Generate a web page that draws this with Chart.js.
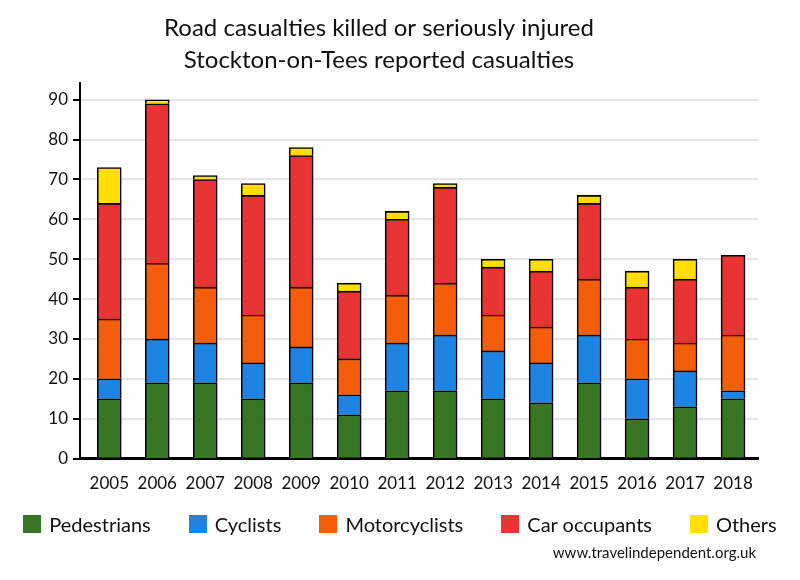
<!DOCTYPE html>
<html>
<head>
<meta charset="utf-8">
<script src="https://cdn.jsdelivr.net/npm/chart.js@4.4.0/dist/chart.umd.min.js"></script>
<style>
  html, body { margin: 0; padding: 0; background: #fff; }
  #wrap { position: relative; width: 800px; height: 580px; }
  #legend {
    position: absolute; left: 0; top: 512px; width: 800px;
    display: flex; justify-content: center; gap: 38px;
    font: 20px Lato, "Open Sans", sans-serif; color: #111;
  }
  #legend .item { display: flex; align-items: center; }
  #legend .box { width: 18px; height: 18px; margin-right: 8px; }
</style>
</head>
<body>
<div id="wrap">
  <canvas id="casualty-chart"></canvas>
  <div id="legend"></div>
</div>
<script>
const years = ["2005", "2006", "2007", "2008", "2009", "2010", "2011", "2012", "2013", "2014", "2015", "2016", "2017", "2018"];

const pedestrians = [15, 19, 19, 15, 19, 11, 17, 17, 15, 14, 19, 10, 13, 15];
const cyclists = [5, 11, 10, 9, 9, 5, 12, 14, 12, 10, 12, 10, 9, 2];
const motorcyclists = [15, 19, 14, 12, 15, 9, 12, 13, 9, 9, 14, 10, 7, 14];
const carOccupants = [29, 40, 27, 30, 33, 17, 19, 24, 12, 14, 19, 13, 16, 20];
const others = [9, 1, 1, 3, 2, 2, 2, 1, 2, 3, 2, 4, 5, 0];

const yTicks = [0, 10, 20, 30, 40, 50, 60, 70, 80, 90];

const FONT = "Lato, 'Open Sans', sans-serif";
const chartCanvas = document.querySelector("#casualty-chart");
const legendBox = document.querySelector("#legend");

const makeSet = (label, data, color) => ({
  label: label,
  data: data,
  backgroundColor: color,
  borderColor: "#000",
  borderWidth: 1.6,
  barThickness: 24,
});

// small text in the bottom right corner
const sourceNote = {
  id: "sourceNote",
  afterDraw(chart) {
    const ctx = chart.ctx;
    ctx.save();
    ctx.font = "15px " + FONT;
    ctx.fillStyle = "#111";
    ctx.textAlign = "right";
    ctx.textBaseline = "middle";
    ctx.fillText("www.travelindependent.org.uk", 756, 553);
    ctx.restore();
  },
};

// legend as html so the spacing can follow the original
const renderLegend = (chart) => {
  legendBox.innerHTML = "";
  chart.data.datasets.forEach((ds) => {
    const item = document.createElement("div");
    item.className = "item";
    const box = document.createElement("span");
    box.className = "box";
    box.style.background = ds.backgroundColor;
    const txt = document.createElement("span");
    txt.textContent = ds.label;
    item.appendChild(box);
    item.appendChild(txt);
    legendBox.appendChild(item);
  });
};

const renderChart = () => {
  const chart = new Chart(chartCanvas, {
    type: "bar",
    data: {
      labels: years,
      datasets: [
        makeSet("Pedestrians", pedestrians, "#377622"),
        makeSet("Cyclists", cyclists, "#1d84e1"),
        makeSet("Motorcyclists", motorcyclists, "#f45e0b"),
        makeSet("Car occupants", carOccupants, "#e93434"),
        makeSet("Others", others, "#ffde00"),
      ],
    },
    options: {
      responsive: true,
      maintainAspectRatio: false,
      animation: false,
      layout: { padding: { left: 0, right: 42, top: 0, bottom: 71 } },
      scales: {
        x: {
          type: "linear",
          stacked: true,
          offset: false,
          min: 2004.39,
          max: 2018.52,
          afterBuildTicks: (scale) => {
            scale.ticks = years.map((y) => ({ value: Number(y) }));
          },
          ticks: {
            autoSkip: false,
            maxRotation: 0,
            padding: 15,
            color: "#111",
            font: { family: FONT, size: 17 },
            callback: (v) => String(v),
          },
          grid: { display: false, drawTicks: false },
          border: { display: true, color: "#000", width: 3 },
        },
        y: {
          stacked: true,
          min: 0,
          max: 94.2,
          afterBuildTicks: (scale) => {
            scale.ticks = yTicks.map((v) => ({ value: v }));
          },
          afterFit: (scale) => {
            scale.width = 80;
          },
          ticks: {
            padding: 5,
            color: "#111",
            font: { family: FONT, size: 17 },
          },
          grid: {
            color: "#e6e6e6",
            lineWidth: 2,
            tickColor: "#000",
            tickLength: 7,
            tickWidth: 2,
          },
          border: { display: true, color: "#000", width: 2 },
        },
      },
      plugins: {
        title: {
          display: true,
          text: ["Road casualties killed or seriously injured", "Stockton-on-Tees reported casualties"],
          color: "#111",
          font: { family: FONT, size: 24, weight: "normal", lineHeight: 1.333 },
          padding: { top: 12, bottom: 7 },
        },
        legend: { display: false },
        tooltip: { enabled: false },
      },
    },
    plugins: [sourceNote],
  });
  renderLegend(chart);
};

document.addEventListener("DOMContentLoaded", () => {
  renderChart();
});
</script>
</body>
</html>
